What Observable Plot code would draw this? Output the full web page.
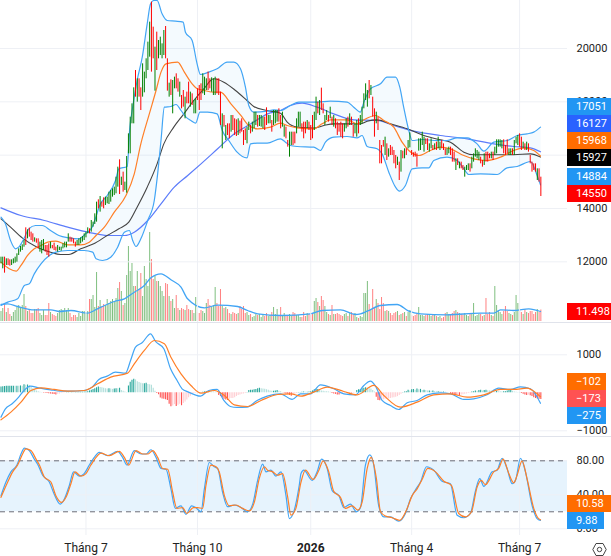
<!DOCTYPE html>
<html><head><meta charset="utf-8">
<script src="https://cdn.jsdelivr.net/npm/d3@7"></script>
<script src="https://cdn.jsdelivr.net/npm/@observablehq/plot@0.6"></script>
<style>
html,body{margin:0;padding:0;background:#fff;overflow:hidden}
#c{position:relative;width:611px;height:556px;font-family:Roboto,sans-serif}
.b{position:absolute;left:567px;height:17px;line-height:17px;color:#fff;font-size:11px;padding-left:9px;box-sizing:border-box}
.s{position:absolute;left:0;width:611px;height:1px;background:#e0e3eb}
</style></head><body><div id="c"></div>
<script>
const lows=[11925,11738,11575,11863,11863,11838,11863,11925,11950,11988,
12238,12363,12425,12550,12613,12863,12925,12800,12738,12738,
12700,12488,12363,12300,12425,12363,12238,12175,12488,12488,
12425,12400,12363,12425,12400,12488,12525,12525,12738,12738,
12738,12675,12550,12613,12613,12675,12738,12800,12900,13050,
13050,13113,13300,13400,13488,13988,13863,14050,13988,14113,
14175,14150,14238,14425,14488,14550,14800,14525,14863,14613,
14675,14575,16050,16050,17175,17175,18175,17988,18175,17675,
18175,18338,18863,19175,19675,19113,19613,18400,19175,19613,
19738,19613,19738,19613,18400,18175,18238,17550,18488,18488,
18363,18175,17738,17800,17363,17925,17925,17800,17863,17550,
17550,18050,17675,18050,18300,18238,18425,18425,18488,18363,
18238,18238,18300,18238,17113,16238,17050,16550,16738,16613,
16863,16925,16738,16700,16738,16800,16863,16363,16550,16425,
16925,16800,16863,16988,17113,17050,17075,17050,16988,16925,
17113,17175,17175,16863,17113,17175,17238,17238,16988,17050,
16675,16613,16300,15925,16363,16363,16425,16800,17050,17050,
16863,16613,16800,16988,16925,16550,16613,16925,17300,17550,
17488,17675,17550,17113,17300,17238,17363,17113,17050,16988,
16738,16863,16675,16613,16863,16988,17050,17113,17113,16675,
16800,16675,16800,17113,17175,17738,18050,17800,18113,18238,
17425,16675,17175,16925,15675,15675,16300,15988,15800,15925,
15988,15988,15675,15488,15613,15050,15363,15863,15863,15988,
16238,16275,15988,15925,15925,15550,16150,16175,16363,16113,
16400,16175,16113,16238,16175,16200,16175,16238,16175,16238,
16175,15988,15988,16050,15988,15738,15738,15425,15613,15488,
15488,15425,15175,15425,15425,15363,15488,15738,15925,15863,
15800,15675,15550,15613,15738,15738,15863,15863,15800,15988,
16050,16300,16300,16238,16050,15988,16050,15988,15988,15988,
15988,16425,16363,16300,16175,16238,16175,16175,16113,15675,
15363,15425,15363,15050,14988,14450];
const highs=[12175,12175,12175,12113,12113,12075,12075,12113,12175,12300,
12488,12575,12638,12800,13275,13200,13263,13113,13050,12900,
12863,12863,12738,12800,12838,12613,12613,12675,12738,12613,
12700,12550,12613,12550,12550,12675,12738,12738,13050,12925,
12900,12863,12738,12800,12863,12900,12950,13050,13113,13275,
13238,13550,13488,13800,14238,14325,14450,14238,14400,14425,
14425,14613,14675,14738,14800,15175,15550,15825,15175,15363,
14988,15950,16800,17425,17925,18525,19175,18863,18863,18525,
19425,19113,19613,20238,20988,21738,20800,20050,20613,20300,
20425,20175,20675,20825,19613,18700,18825,18800,18925,19050,
18863,18738,18238,18425,18175,18363,18738,18363,18300,18050,
18113,18488,18613,18675,19050,18925,18863,19113,18863,18900,
18863,18925,18863,18863,18363,17550,17488,17113,17175,17175,
17488,17488,17363,17325,17363,17275,17363,16925,16988,17050,
17238,17113,17238,17613,17613,17488,17488,17488,17425,17425,
17775,17488,17488,17300,17675,17675,17675,17738,17488,17613,
17113,17050,16550,16863,16863,16863,16863,17363,17613,17613,
17175,17238,17238,17300,17238,17113,17488,17613,18175,17988,
18050,18513,17925,17488,17675,17488,17800,17425,17488,17363,
17238,17175,17238,17175,17175,17363,17425,17550,17425,17113,
17175,17300,17363,17488,17800,18300,18675,18425,18800,18613,
18175,17738,17613,17425,16550,16363,16550,16675,16425,16238,
16363,16300,16175,15988,15925,15738,16175,16150,16238,16238,
16550,16838,16175,16088,16113,16050,16613,16613,16863,16675,
16613,16613,16425,16613,16363,16425,16488,16675,16488,16550,
16425,16238,16238,16300,16300,16238,16113,15863,15863,15738,
15738,15613,15550,15613,15675,15675,15925,16050,16238,16175,
16113,15925,15800,16050,16113,16113,16050,16113,16113,16300,
16575,16575,16575,16550,16575,16363,16575,16238,16238,16238,
16550,16675,16738,16800,16675,16488,16425,16488,16425,15988,
15738,15675,15675,15488,15488,15175];
const dirs=("ggrgrrgggg"+"ggggrgrrrg"+"rrgggrrrgr"+"rrgggggggr"+"rrrggggggg"+"rggggrgrrg"+"gggggggrgr"+"ggggggrgrr"+"gggggrrgrg"+"gggrrgrggr"+
"rgrrgrrgrg"+"grrrgggrrg"+"ggrrrgrgrr"+"grrrgrrrrg"+"grgggrgggr"+"rggrgggrrg"+"grrggrrggg"+"rrrgrrrggr"+"grrggrgrgr"+"rrrrggrgrr"+
"ggrgggggrg"+"rrgrrrrgrg"+"rrrrgrgrgr"+"ggrrrrgggg"+"rrggrgrggr"+"rrggrrrgrg"+"rrgggrgggg"+"grrgrrrgrg"+"ggggrrrggr"+"gggrrgrgrr"+"rrrgrr").split("");
const volumes=[10,13,17,9,13,7,5,9,11,14,16,14,16,27,15,10,11,8,8,12,12,13,8,6,11,6,6,18,9,7,6,5,8,11,12,11,13,11,13,8,4,6,6,4,8,5,10,10,8,10,
22,22,26,14,49,15,21,15,17,16,22,18,20,22,20,23,33,39,30,16,18,46,75,50,58,35,35,50,32,48,25,55,42,35,89,62,42,45,40,40,35,30,25,38,37,25,20,22,13,26,
13,11,13,12,11,16,12,11,11,8,24,9,8,11,10,8,18,22,16,14,16,34,18,15,32,15,13,14,12,8,7,9,8,7,8,15,12,15,8,9,6,7,4,5,7,6,7,4,6,5,
8,5,6,9,14,7,12,6,14,6,8,6,6,7,5,9,8,6,6,4,4,9,5,8,7,6,8,20,23,19,15,25,21,15,9,7,6,16,7,7,8,7,6,5,7,8,5,8,9,7,
8,4,3,5,4,28,28,40,17,12,32,14,22,18,12,24,18,10,11,10,8,6,8,9,10,6,7,8,9,5,9,11,6,5,6,8,14,6,6,5,6,7,6,5,6,7,5,4,5,3,
4,8,9,7,6,8,10,11,9,8,7,6,8,6,5,7,8,18,5,6,7,7,5,6,23,7,9,6,5,35,16,11,9,7,10,15,10,8,7,6,9,26,18,12,9,7,12,9,8,10,10,7,9,12,9,11.498];
const histogram=[150,160,165,170,170,175,175,175,170,175,170,180,175,210,200,205,195,140,110,80,50,30,15,10,-10,-15,-20,-25,-30,-35,-45,-60,-40,-30,-20,-10,-5,5,15,10,10,
5,8,10,12,15,15,18,20,25,50,70,90,110,130,150,140,130,120,110,100,110,100,90,100,110,105,120,60,40,20,10,180,280,330,360,340,
290,270,250,240,240,250,220,210,200,120,40,-20,-50,-140,-160,-170,-180,-200,-300,-370,-350,-310,-360,-330,-300,-340,-280,-240,-190,-130,-90,-40,-20,-10,-5,5,10,15,
25,30,35,30,25,20,15,10,-70,-100,-130,-170,-190,-200,-170,-150,-150,-130,-100,-70,-60,-40,-30,-20,10,60,70,70,80,90,110,120,110,100,95,80,70,50,40,40,50,60,40,30,
10,-10,-30,-40,-70,-90,-60,-40,-20,5,10,15,20,15,15,20,25,50,80,85,90,75,50,40,30,25,20,15,-20,-30,-40,-55,-60,-40,-30,-10,-5,5,-5,-10,-10,-5,
60,80,90,110,120,130,120,110,100,60,20,-120,-200,-210,-190,-180,-170,-170,-160,-150,-140,-130,-120,-100,-70,-40,10,20,30,70,50,80,90,70,100,80,90,60,70,60,50,
50,40,45,35,30,30,25,20,20,15,10,5,-30,-50,-60,-80,-80,-85,-60,-50,-40,-30,-20,-10,20,30,50,40,60,70,50,60,70,55,50,45,35,30,40,30,25,20,25,30,50,60,65,40,20,
15,10,5,-20,-40,-60,-70,-60,-80,-100,-130,-150,-160,-170,-173];

const bbUpper=[[0,13675],[2.5,13425],[5.4,12800],[8.2,12488],[10,12550],[12.9,12863],[15.7,13238],[19.5,13363],[23.3,13363],[28,13175],[32.7,12988],[38.3,12900],[44,12863],[47.7,13050],[51.5,13300],[56.2,14175],[60,14488],[64.7,15050],[66.6,15488],[71.3,15575],[72.8,17050],[74.1,17675],[76.9,18800],[79.8,19675],[82.6,20925],[84.5,21675],[86.3,21800],[88.2,21800],[91,21300],[93.9,21050],[98.6,21025],[102.9,20988],[104.2,20613],[108,20300],[110.8,19425],[112.7,19025],[117.4,19113],[122.1,19238],[127.8,19488],[131.5,19488],[135.3,19238],[138.1,18550],[140,17863],[142.8,17613],[150.4,17650],[154.1,17700],[157.9,17675],[163.5,17863],[168.3,17988],[178.6,17988],[186.1,18025],[195.6,17988],[199.3,17800],[203,17613],[205,17988],[208.7,18488],[214.4,18675],[218.1,18925],[222.9,18925],[225.3,18550],[227.5,17800],[230.4,16925],[232.3,16550],[237.9,16588],[246.4,16550],[252,16550],[257.7,16650],[263.4,16650],[269,16425],[272.8,16150],[278.4,16488],[286,16550],[291.6,16738],[297.2,16800],[301,16863],[304.8,17051]];
const bbLower=[[0,10363],[3.8,10488],[9.4,10613],[13.2,11113],[16,11175],[18.8,11550],[22.6,11925],[27.3,12238],[31,12363],[37.7,12425],[47,12425],[51.8,12363],[53.7,12113],[57.4,12050],[62,12175],[65.9,12550],[69.7,13113],[72.5,13175],[74.4,12800],[76.3,12575],[79,12863],[82.9,13550],[86.6,14300],[88.5,15300],[90.4,16550],[92.3,17800],[96,17825],[98.9,17900],[101.7,17675],[104.5,17425],[107.3,17300],[110,17200],[112.4,17613],[116.7,17613],[122.1,17550],[125,16925],[128.7,16550],[133.4,16113],[139,15900],[141,16425],[144.7,16450],[150.4,16450],[157.9,16613],[160.7,16488],[163.5,16363],[167.3,16325],[176.7,16300],[180.5,16175],[183.3,16488],[188,16675],[195.6,16700],[201.2,16650],[204,16738],[206.9,16325],[212.5,16238],[215.3,16050],[219.1,15363],[222.9,14800],[225.1,14650],[228.5,14863],[232.3,15488],[237.9,15525],[241.7,15525],[244.5,15800],[252,15925],[257.7,15800],[261.5,15488],[264.3,15275],[270.9,15300],[280.3,15275],[285.9,15525],[291.6,15575],[299.1,15763],[302.9,15238],[304.8,14884]];
const bbMiddle=[[0,11988],[4.7,11738],[8.5,11650],[11.3,11863],[15,12238],[18.8,12488],[22.6,12613],[26.4,12738],[31,12775],[37.7,12638],[45,12638],[49.9,12738],[53.7,12988],[58.4,13300],[64,13863],[70.6,14488],[75.3,15300],[79,16425],[83.8,17550],[87.6,18425],[90.4,19113],[93.2,19425],[99.8,19488],[103.6,19113],[108,18675],[111,18488],[114.9,18425],[120.5,18363],[124,18363],[129.9,17925],[135.5,17488],[140,17113],[145,16988],[152.3,17050],[157.9,17200],[161.7,17113],[167.3,17025],[176.7,16988],[181.4,17175],[186.1,17325],[195.6,17325],[201.2,17175],[205,17325],[211.6,17488],[216.3,17300],[221.9,17050],[226.6,16488],[230.4,16175],[236,15988],[242.6,16175],[248.3,16300],[253.9,16238],[261.5,15988],[267.1,15863],[274.6,15800],[282.2,15925],[289.7,16175],[295.4,16275],[301,16175],[304.8,15968]];
const maBlack=[[0,13613],[5.4,13300],[12,12900],[20.4,12550],[28,12363],[33.6,12275],[38.3,12275],[45,12488],[52.4,12675],[60,12988],[66.6,13238],[72.2,13488],[76.9,14050],[82.6,14800],[88.2,15675],[92,16425],[97.6,17050],[103.3,17550],[108.9,18050],[114.6,18488],[120.2,18863],[125.9,18738],[132.5,18425],[139,18050],[142.8,17825],[150.4,17675],[157.9,17575],[161.7,17238],[167.3,17050],[176.7,17013],[182.4,17113],[188,17175],[203,17175],[206.9,17275],[212.5,17325],[220,17175],[229.5,16988],[238.9,16738],[248.3,16575],[253.9,16488],[261.5,16113],[267.1,16013],[278.4,16013],[289.7,16013],[299.1,16050],[304.8,15927]];
const maBlue=[[0,14025],[11.3,13738],[24.5,13550],[37.7,13300],[50.8,13088],[60,12988],[69.7,12988],[75.3,13113],[82.9,13550],[90.4,14175],[97.9,14800],[105.5,15238],[113,15675],[122.4,16238],[131.8,16800],[141.2,17175],[150.6,17550],[157.9,17675],[163.5,17863],[170.1,17950],[178.6,17800],[188,17550],[199.3,17325],[212.5,17300],[221.9,17113],[233.2,16900],[248.3,16738],[263.4,16613],[278.4,16425],[289.7,16325],[299.1,16275],[304.8,16127]];
const volumeMa=[[0,17],[3.8,17.7],[9.4,15],[18.8,11.7],[28.2,11.7],[33,10],[39.5,11],[49,8.3],[52.7,11],[56.5,14.3],[64,20],[69.7,22.7],[75.3,29.3],[81,36],[84.7,43.7],[90.4,47.7],[96,41.7],[101.7,34.3],[105.4,22.7],[114.9,13.7],[122.4,16.3],[133.7,15],[139.3,11],[145,7.7],[158.2,6],[174.8,7.7],[181.4,11],[191.8,11.7],[200.3,7],[203.1,7.7],[206.9,10.3],[214.4,16],[223.8,17],[230.4,10.3],[237,7.7],[252,6.7],[270.9,8.3],[278.4,8.3],[282.2,11.7],[289.7,11],[298.2,12.7],[304.8,10]];
const macdLine=[[0,-640],[2.5,-421],[6.3,-289],[10,-114],[13,61],[16.7,175],[21.4,132],[28,79],[33.6,44],[40.2,44],[46.8,61],[51.5,149],[55.3,351],[60,438],[64.7,544],[70.3,517],[73.2,851],[76,1201],[79.7,1316],[84.5,1552],[87.3,1351],[92,1158],[95.8,631],[99.5,324],[102.3,105],[106,18],[112.7,-88],[117.4,61],[122.1,88],[125.9,-202],[129.6,-360],[133.4,-386],[139,-377],[144.7,-202],[150.4,-88],[157.9,-26],[164.5,-175],[169.2,-26],[174.8,-26],[180.5,210],[188,105],[193.7,-26],[200.3,-53],[205,193],[208.7,307],[211.6,175],[215.3,-202],[220,-333],[224.7,-439],[229.5,-263],[235.1,-202],[240.8,-53],[248.3,0],[254,-26],[261.5,-175],[267.1,-158],[274.6,-53],[281.2,123],[287.8,88],[293.5,158],[299.1,105],[304.8,-275]];
const macdSignal=[[0,-710],[5.6,-509],[11.3,-246],[16.9,61],[22.6,132],[30,88],[37.7,44],[47,61],[54.6,237],[62,412],[71.5,517],[75.3,763],[81,1114],[86.6,1377],[92.3,1289],[96,938],[101.7,500],[107.3,193],[113,-9],[120.5,61],[126.2,-70],[131.8,-316],[139.3,-360],[146.9,-202],[156.3,-44],[163.8,-26],[169.5,-88],[176.7,18],[184.3,149],[193.7,35],[201.2,-53],[210.6,193],[216.3,-70],[225.7,-377],[235.1,-246],[244.5,-53],[254,-26],[263.4,-114],[272.8,-53],[282.2,88],[289.7,88],[297.2,123],[302.9,-26],[304.8,-102]];
const stochK=[[0,39],[2.8,55],[5.6,67],[9,75],[11.3,88],[13.2,95],[16,92],[18.8,82],[20.7,76],[23.5,63],[27.3,55],[30,41],[33.5,29],[35.8,35],[38.6,51],[41,67],[44.3,62],[47,65],[49.9,75],[52.7,84],[55.5,90],[60.3,86],[65.9,91],[68.7,84],[71.2,75],[75.3,92],[79,88],[82,88],[84.7,93],[87.6,84],[90.4,71],[93.2,70],[96,47],[98.5,24],[101.7,27],[104.5,17],[107.7,27],[110,25],[113,20],[114.9,47],[117.7,78],[120.5,73],[122.4,71],[125.2,43],[128,26],[131.8,28],[135.6,25],[139.3,20],[142.2,29],[145,57],[147.8,76],[149.7,67],[152.5,69],[155.3,62],[158.2,67],[161,39],[162.9,12],[165.7,22],[168.5,51],[169.5,65],[171.1,69],[175.8,57],[178.6,67],[181.1,82],[184.3,71],[187.1,45],[190.9,39],[193.7,25],[197.4,29],[200.8,20],[203.1,25],[205.9,75],[208.4,87],[210.6,75],[213.4,27],[216.3,14],[220,14],[224.7,9],[228.5,18],[231.3,35],[234.2,46],[237,55],[240.4,73],[244.5,69],[249.2,56],[253.9,53],[257.7,16],[261.5,13],[265.2,18],[268.1,45],[270.5,59],[272.8,50],[277.5,67],[280.3,69],[283.1,83],[285.9,71],[288.8,53],[290.7,57],[293.5,83],[296.3,67],[300.1,27],[302.9,12],[304.8,9.88]];
const stochD=[[0,37],[3.8,55],[6.6,67],[9.4,75],[12.2,88],[14.1,94],[16.9,92],[19.8,82],[21.7,75],[24.5,61],[28.2,55],[31,39],[34.3,31],[36.7,37],[39.5,53],[41.8,67],[45.2,62],[48,65],[50.8,75],[53.7,84],[56.5,89],[61.2,86],[66.8,91],[69.7,84],[72.1,75],[76.3,92],[80,88],[82.9,88],[85.7,92],[88.5,84],[91.3,71],[94.2,70],[97,43],[99.4,24],[102.6,25],[105,18],[108.7,25],[111,25],[113.9,24],[115.8,51],[118.6,75],[121.5,73],[123.3,67],[126.2,39],[129,27],[132.8,28],[136.5,24],[140.3,21],[143.1,31],[145.9,59],[148.8,73],[150.6,69],[153.5,67],[156.3,63],[159.1,65],[162,37],[163.8,16],[166.6,24],[169.5,55],[172,69],[176.4,58],[179.6,69],[182,80],[185.2,67],[188,44],[191.8,37],[194.6,24],[198.4,27],[201.6,22],[204,31],[206.9,71],[209.1,84],[212.1,59],[214.4,20],[217.2,15],[221,13],[225.3,10],[229.1,22],[232.3,39],[235.1,47],[237.9,58],[241.1,71],[245.5,67],[250.2,56],[254.5,51],[258.6,18],[262.4,14],[265.8,20],[269,49],[271.3,57],[273.7,52],[278.4,67],[281.2,71],[283.7,82],[286.9,65],[289.7,54],[291.6,63],[294.4,80],[297.2,59],[301,24],[303.3,13],[304.8,10.58]];

const monthTicks=[48,111,232,293];
const monthNames=["Tháng 7","Tháng 10","Tháng 4","Tháng 7"];
const yearTick=[175];
const yearName="2026";
const priceTicks=[12000,14000,16000,18000,20000];
const macdTicks=[-1000,1000];
const stochTicks=[0,40,80];
const stochDash=[20,80];

const priceTags=[["17051","#2196f3",98],["16127","#2962ff",115],["15968","#ff6d00",132],["15927","#000000",149],["14884","#2196f3",168],["14550","#ff0000",185],["11.498","#ff0000",303]];
const macdTags=[["−102","#ff6d00",373,39],["−173","#ff5252",390,39],["−275","#2196f3",407,39]];
const stochTags=[["10.58","#ff6d00",495,44],["9.88","#2196f3",512,37]];

const XD=[-0.28,320.06];
const GRID="#eef0f5";
const idx=lows.map((_,i)=>i);
const bars=idx.map(i=>({bar:i,low:lows[i],high:highs[i],up:dirs[i]==="g",vol:volumes[i]}));
const hist=histogram.map((v,i)=>{
  const p=i?histogram[i-1]:v;
  return {bar:i,v,color:v>=0?(v>=p?"#26a69a":"#b2dfdb"):(v<p?"#ff5252":"#ffcdd2")};
});
const px=d=>d[0], py=d=>d[1];
const base={width:611,marginLeft:0,marginRight:44,marginTop:0,style:{background:"transparent",fontFamily:"Roboto,sans-serif",overflow:"visible"}};
const xS={domain:XD,range:[0,567],axis:null};
const line=(data,stroke,w=1.2)=>Plot.line(data,{x:px,y:py,stroke,strokeWidth:w,curve:"monotone-x",clip:true});
const axis=(ticks,fmt)=>Plot.axisY(ticks,{anchor:"right",label:null,tickSize:0,tickPadding:9,fontSize:11,tickFormat:fmt,fill:"#222"});
const c=document.getElementById("c");
const add=(el,top)=>{el.style.position="absolute";el.style.left="0";el.style.top=top+"px";c.appendChild(el)};
const BLUE="#42a5f5", ORANGE="#ff7f27";

// volume overlay
add(Plot.plot({...base,height:321,marginBottom:0,x:xS,y:{domain:[0,321],range:[321,0],axis:null,label:null},marks:[
  Plot.ruleX(bars,{x:"bar",y1:()=>0,y2:"vol",stroke:d=>d.up?"#7fbf7f":"#ff8080",strokeWidth:1}),
  line(volumeMa,BLUE,1.3)
]}),0);

// price pane
const band=bbUpper.concat(bbLower.slice().reverse());
add(Plot.plot({...base,height:322,marginBottom:0,x:xS,y:{domain:[9725,21800],range:[322,0],axis:null,label:null},marks:[
  Plot.ruleX(monthTicks.concat(yearTick),{stroke:GRID}),
  Plot.ruleY(priceTicks,{stroke:GRID}),
  axis(priceTicks,d=>String(d)),
  Plot.line(band,{x:px,y:py,fill:"#2196f3",fillOpacity:0.05,stroke:"none",curve:"linear",clip:true}),
  line(maBlue,"#5c7cfa",1.2),
  line(maBlack,"#444444",1.1),
  line(bbUpper,BLUE),
  line(bbLower,BLUE),
  line(bbMiddle,ORANGE),
  Plot.ruleX(bars,{x:"bar",y1:"low",y2:"high",stroke:d=>d.up?"#008000":"#ff0000",strokeWidth:1,clip:true})
]}),0);

// MACD pane
add(Plot.plot({...base,height:113,marginBottom:0,x:xS,y:{domain:[-1150,1824],range:[113,0],axis:null,label:null},marks:[
  Plot.ruleX(monthTicks.concat(yearTick),{stroke:GRID}),
  Plot.ruleY(macdTicks,{stroke:GRID}),
  axis(macdTicks,d=>String(d).replace("-","−")),
  Plot.ruleX(hist,{x:"bar",y1:()=>0,y2:"v",stroke:"color",strokeWidth:1.1}),
  line(macdLine,BLUE),
  line(macdSignal,ORANGE)
]}),323);

// Stochastic pane + time axis
add(Plot.plot({...base,height:120,marginBottom:21,x:xS,y:{domain:[-7.9,108.6],range:[99,0],axis:null,label:null},marks:[
  Plot.rect([{a:XD[0],b:XD[1],lo:20,hi:80}],{x1:"a",x2:"b",y1:"lo",y2:"hi",fill:"#e6f3fd"}),
  Plot.ruleX(monthTicks.concat(yearTick),{stroke:GRID}),
  Plot.ruleY(stochTicks,{stroke:GRID}),
  Plot.ruleY(stochDash,{stroke:"#6a6d78",strokeDasharray:"5,4"}),
  axis(stochTicks,d=>d.toFixed(2)),
  line(stochK,BLUE),
  line(stochD,ORANGE),
  Plot.text(monthTicks,{x:d=>d,text:(d,i)=>monthNames[i],frameAnchor:"bottom",dy:13,fontSize:12,fill:"#222",lineAnchor:"middle"}),
  Plot.text(yearTick,{x:d=>d,text:()=>yearName,frameAnchor:"bottom",dy:13,fontSize:12,fontWeight:"bold",fill:"#222",lineAnchor:"middle"})
]}),436);

// pane separators
[322,436].forEach(t=>{const s=document.createElement("div");s.className="s";s.style.top=t+"px";c.appendChild(s)});

// value tags
const tag=(t,col,top,w)=>{const d=document.createElement("div");d.className="b";d.textContent=t;d.style.background=col;d.style.top=top+"px";d.style.width=(w||44)+"px";c.appendChild(d)};
priceTags.forEach(a=>tag(...a));macdTags.forEach(a=>tag(...a));stochTags.forEach(a=>tag(...a));

// settings glyph
const g=document.createElement("div");
g.style.cssText="position:absolute;left:592px;top:542px;width:15px;height:15px";
g.innerHTML='<svg width="15" height="15" viewBox="0 0 15 15" fill="none" stroke="#444" stroke-width="1"><path d="M4 1.5h7l3.2 6-3.2 6H4L.8 7.500z"/><circle cx="7.500" cy="7.500" r="2.200"/></svg>';
c.appendChild(g);
</script></body></html>
